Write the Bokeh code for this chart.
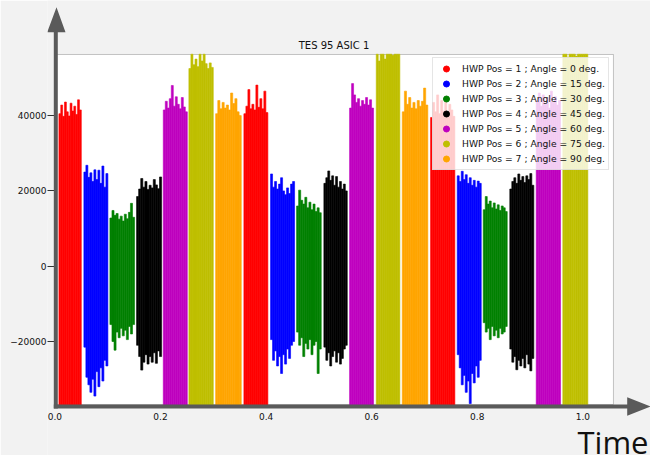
import numpy as np
from bokeh.plotting import figure
from bokeh.models import (Range1d, FixedTicker, Legend, LegendItem, PolyAnnotation, BoxAnnotation,
                          Label, PrintfTickFormatter, ColumnDataSource)
from bokeh.embed import file_html
from bokeh.resources import INLINE

# ---------------- data ----------------
title_text = "TES 95 ASIC 1"
x_label = "Time"
hwp_pos = [1, 2, 3, 4, 5, 6, 7]
angles = [0, 15, 30, 45, 60, 75, 90]
colors = ["#ff0000", "#0000ff", "#008000", "#000000", "#bf00bf", "#bfbf00", "#ffa500"]

# time span of each recorded segment (segment k uses HWP position k % 7)
seg_start = [0.0076, 0.0549, 0.1042, 0.1547, 0.2053, 0.2538, 0.3045, 0.3580, 0.4085, 0.4578,
             0.5095, 0.5582, 0.6087, 0.6580, 0.7116, 0.7621, 0.8114, 0.8617, 0.9117, 0.9621]
seg_end = [0.0500, 0.1004, 0.1509, 0.2021, 0.2508, 0.3000, 0.3530, 0.4034, 0.4540, 0.5045,
           0.5538, 0.6036, 0.6534, 0.7064, 0.7576, 0.8076, 0.8568, 0.9072, 0.9578, 1.0095]

# upper envelope of the signal within each segment (56300: above the visible range)
seg_top = [
    [40500, 42800, 39800, 43600, 41000, 39900, 43300, 41200, 42500, 40300, 44200, 41500],
    [25000, 26800, 23600, 24800, 22500, 25600, 23000, 25500, 22000, 26600, 21000, 24600],
    [12800, 14800, 13500, 14000, 12500, 13300, 12000, 13800, 12600, 14300, 16700, 13000],
    [18500, 20500, 23300, 21000, 22500, 20400, 21500, 20800, 23000, 21600, 20600, 23700],
    [41500, 43800, 42000, 44500, 48000, 42500, 45000, 43000, 41800, 44800, 42300, 41000],
    [52500, 56300, 53500, 55000, 53000, 56300, 54500, 56300, 53800, 52500, 54000, 52800],
    [40500, 44000, 41800, 43500, 42000, 42800, 41500, 46000, 43200, 44500, 41000, 40000],
    [40500, 42500, 46900, 41800, 43000, 41500, 48100, 42200, 44500, 41800, 46500, 40800],
    [24500, 21000, 22500, 20500, 21800, 23500, 20000, 19000, 20800, 19300, 21800, 22500],
    [16000, 20200, 17500, 16500, 18300, 15500, 17000, 15000, 16500, 14500, 15500, 14200],
    [22000, 23500, 25300, 22800, 24000, 21500, 23800, 21000, 22500, 20500, 21800, 20000],
    [42000, 48500, 45500, 43500, 44500, 42500, 44000, 43000, 44800, 42800, 44200, 42000],
    [56300, 54500, 56300, 56300, 55000, 56300, 56300, 56300, 56000, 56300, 56300, 56300],
    [41000, 46500, 43000, 44800, 42000, 43500, 41800, 44000, 42500, 43800, 47300, 42800],
    [39500, 43500, 41000, 45500, 40500, 44000, 41200, 45000, 40800, 43000, 41500, 39800],
    [24000, 22500, 25200, 23000, 24300, 22000, 23500, 21500, 22800, 21000, 22600, 22000],
    [15000, 18500, 16500, 17300, 15500, 16800, 15200, 16300, 14800, 16000, 15500, 14500],
    [20500, 22500, 23500, 22000, 24500, 22800, 23800, 22200, 24000, 23000, 24600, 21500],
    [44000, 46000, 42500, 45500, 43000, 44800, 42000, 46500, 43500, 45000, 42800, 44000],
    [56300, 56300, 55500, 56300, 56300, 56300, 55800, 56300, 56300, 56300, 56300, 56300],
]
# lower envelope of the signal within each segment (-37500: below the visible range)
seg_bottom = [
    [-37500] * 12,
    [-21500, -29500, -31500, -33500, -30000, -34500, -28000, -32000, -27000, -30500, -25000, -26500],
    [-15500, -20000, -22300, -17500, -19000, -16500, -18500, -17000, -19500, -16000, -18000, -15500],
    [-21000, -24000, -27600, -25500, -23500, -26000, -24000, -25500, -23000, -25800, -22500, -24000],
    [-37500] * 12,
    [-37500] * 12,
    [-37500] * 12,
    [-37500] * 12,
    [-19500, -25000, -22500, -26500, -24000, -28500, -23500, -26000, -22000, -24500, -21000, -20000],
    [-17500, -21000, -19000, -24000, -20500, -22000, -19500, -23500, -21000, -20000, -28500, -22000],
    [-21500, -25000, -23000, -26500, -24000, -22500, -25500, -23000, -26000, -24500, -22000, -21000],
    [-37500] * 12,
    [-37500] * 12,
    [-37500] * 12,
    [-37500] * 12,
    [-23500, -27000, -31500, -29000, -33500, -30500, -36500, -28500, -31000, -26500, -29500, -25000],
    [-15000, -17500, -16500, -19500, -16000, -18500, -17000, -19000, -16500, -18000, -17500, -16000],
    [-22000, -25500, -24000, -27500, -25000, -26500, -24500, -27000, -23500, -26000, -27800, -24500],
    [-37500] * 12,
    [-37500] * 12,
]

x_ticks = [0.0, 0.2, 0.4, 0.6, 0.8, 1.0]
y_ticks = [-20000, 0, 20000, 40000]
y_tick_labels = ["\u221220000", "0", "20000", "40000"]
# axis limits of the chart's plot area
x_limits = (0.0, 1.058)
y_limits = (-36730, 56230)

# ---------------- figure ----------------
# The frame is widened past the plot area so that the decorative arrows and the
# axis caption fit inside it; the plot area itself is the white box spanning the axis limits.
BG = "#f2f2f2"
LEFT = 47
p = figure(width=650, height=455, output_backend="svg", toolbar_location=None, title=None,
           x_range=Range1d(-0.01402, 1.1282), y_range=Range1d(-50278, 70570),
           min_border_left=LEFT, min_border_right=0, min_border_top=0, min_border_bottom=0)
p.border_fill_color = BG
p.background_fill_color = BG
p.outline_line_color = None
p.grid.visible = False

p.add_layout(BoxAnnotation(left=x_limits[0], right=x_limits[1], bottom=y_limits[0], top=y_limits[1],
                           fill_color="white", fill_alpha=1.0, line_color="#444444",
                           line_width=1, level="underlay"))

for ax in (p.xaxis, p.yaxis):
    ax.major_label_text_font = "DejaVu Sans"
    ax.major_label_text_font_size = "9px"
    ax.major_label_text_color = "#111111"
    ax.minor_tick_line_color = None
    ax.axis_line_color = None
    ax.major_tick_line_width = 0.8
p.xaxis.ticker = FixedTicker(ticks=x_ticks)
p.xaxis.formatter = PrintfTickFormatter(format="%.1f")
p.xaxis.major_tick_in = 0
p.xaxis.major_tick_out = 0
p.xaxis.major_label_standoff = -43
p.yaxis.ticker = FixedTicker(ticks=y_ticks)
p.yaxis.major_label_overrides = {t: l for t, l in zip(y_ticks, y_tick_labels)}
p.yaxis.major_tick_in = 7
p.yaxis.major_tick_out = 0
p.yaxis.major_label_standoff = 1

# ---------------- signal segments ----------------
left, right, bottom, top, col = [], [], [], [], []
for k in range(len(seg_start)):
    n = len(seg_top[k])
    edges = np.linspace(seg_start[k], seg_end[k], n + 1)
    left += list(edges[:-1])
    right += list(edges[1:])
    top += seg_top[k]
    bottom += seg_bottom[k]
    col += [colors[k % len(colors)]] * n
src = ColumnDataSource(dict(left=left, right=right, bottom=bottom, top=top, color=col))
p.quad(left="left", right="right", bottom="bottom", top="top", source=src,
       fill_color="color", line_color="color", line_width=0.6)

# ---------------- title ----------------
p.add_layout(Label(x=286.5, y=410, x_units="screen", y_units="screen", text=title_text,
                   text_align="center", text_baseline="middle",
                   text_font="DejaVu Sans", text_font_size="10px", text_color="#111111"))

# ---------------- legend (marker-only entries, no visible points) ----------------
items = []
for pos, ang, c in zip(hwp_pos, angles, colors):
    r = p.scatter(x=[float("nan")], y=[float("nan")], size=6, fill_color=c, line_color=c)
    items.append(LegendItem(label=f"HWP Pos = {pos} ; Angle = {ang} deg.", renderers=[r]))
legend = Legend(items=items, location=(385, 285), padding=3, spacing=0,
                glyph_height=15, glyph_width=20, label_height=15, label_standoff=6,
                label_text_font="DejaVu Sans", label_text_font_size="9.2px",
                label_text_color="#111111",
                background_fill_color="white", background_fill_alpha=0.8,
                border_line_color="#cccccc", border_line_width=1)
p.add_layout(legend)

# ---------------- decorative axis arrows (screen px from the frame's bottom-left) ----------------
arrow_color = "#5a5a5a"
v_arrow_x = [6.3, 10.3, 10.3, 18.0, 9.0, -0.3, 6.3]
v_arrow_y = [47.0, 47.0, 423.3, 423.3, 448.3, 423.3, 423.3]
h_arrow_x = [6.3, 579.7, 579.7, 603.0, 579.7, 579.7, 6.3]
h_arrow_y = [51.0, 51.0, 58.2, 49.0, 39.8, 47.0, 47.0]
p.add_layout(PolyAnnotation(xs=v_arrow_x, ys=v_arrow_y, xs_units="screen", ys_units="screen",
                            fill_color=arrow_color, fill_alpha=1.0, line_color=None))
p.add_layout(PolyAnnotation(xs=h_arrow_x, ys=h_arrow_y, xs_units="screen", ys_units="screen",
                            fill_color=arrow_color, fill_alpha=1.0, line_color=None))

# ---------------- axis caption ----------------
p.add_layout(Label(x=648 - LEFT, y=13.3, x_units="screen", y_units="screen", text=x_label,
                   text_align="right", text_baseline="alphabetic",
                   text_font="Open Sans", text_font_size="31px", text_color="#111111"))

open("out.html", "w").write(file_html(p, INLINE))
